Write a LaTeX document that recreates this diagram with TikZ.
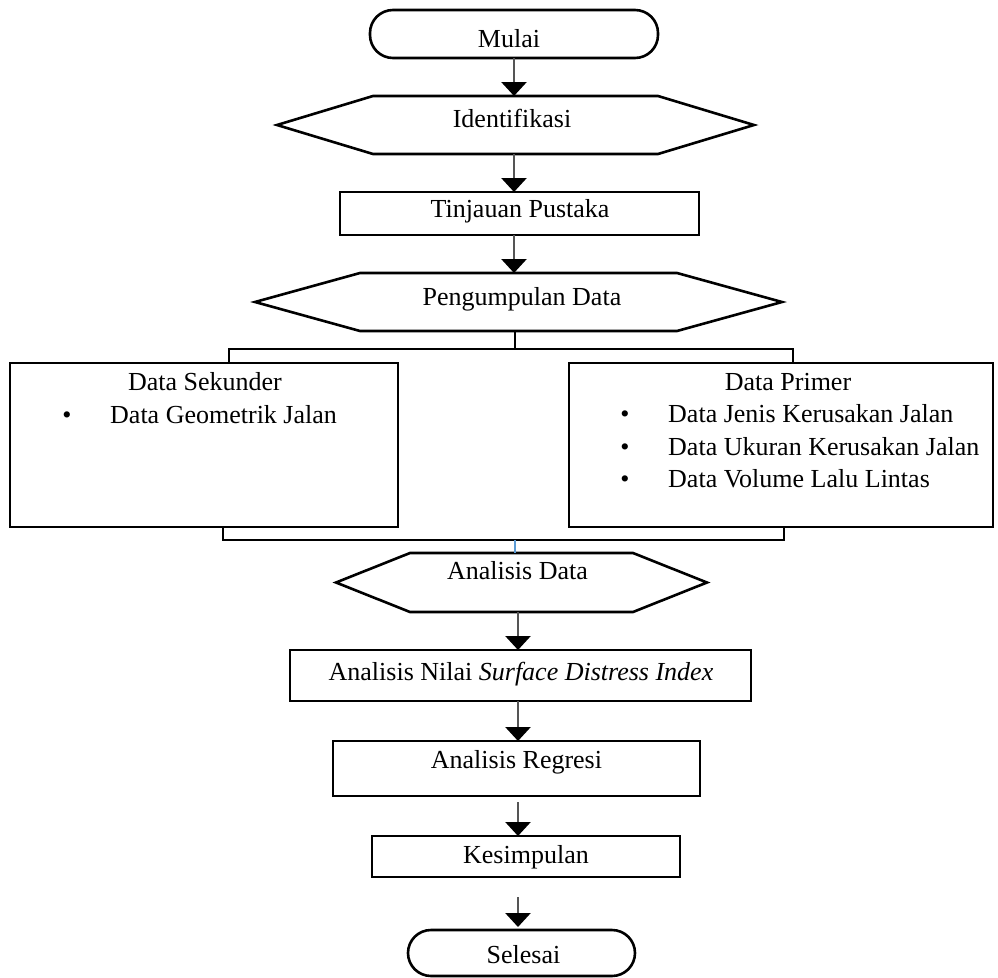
\documentclass[tikz,border=0pt]{standalone}
\usepackage{fontspec}
\setmainfont{Liberation Serif}
\usetikzlibrary{arrows.meta,calc}
\definecolor{shaft}{RGB}{85,85,85}
\definecolor{linkblue}{RGB}{91,155,213}
\tikzset{
  base/.style={font=\fontsize{26bp}{31bp}\selectfont, inner sep=0pt, outer sep=0pt},
  boxline/.style={line width=2.6bp, draw=black, line join=miter},
  procbox/.style={base, draw=black, line width=2.6bp, rectangle},
  termbox/.style={base, draw=black, line width=2.6bp, rectangle, rounded corners=23bp},
  hexarea/.style={base, rectangle},
  lbl/.style={font=\fontsize{26bp}{31bp}\selectfont, inner sep=0pt, anchor=base},
  lblw/.style={lbl, anchor=base west},
  flow/.style={draw=shaft, line width=2.8bp, -{Triangle[width=25bp,length=14bp,color=black]}},
  branch/.style={draw=black, line width=1.4bp},
}
\newcommand\hexpath[2]{%
  \draw[boxline] (#1.west) -- ($(#1.north west)+(#2,0)$) -- ($(#1.north east)+(-#2,0)$)
    -- (#1.east) -- ($(#1.south east)+(-#2,0)$) -- ($(#1.south west)+(#2,0)$) -- cycle;}
\begin{document}
\begin{tikzpicture}[x=1bp,y=-1bp]
\useasboundingbox (0,0) rectangle (998,978);
% axes for the vertical connectors
\coordinate (axA) at (514,0);
\coordinate (axB) at (518,0);
% shapes
\node[termbox, minimum width=288bp, minimum height=48bp] (mulai) at (514,34) {};
\node[hexarea, minimum width=477bp, minimum height=58bp] (ident) at (515.5,125) {};
\hexpath{ident}{96}
\node[procbox, minimum width=359bp, minimum height=43bp] (tinj) at (519.5,213.5) {};
\node[hexarea, minimum width=527bp, minimum height=58bp] (peng) at (518.5,302) {};
\hexpath{peng}{105}
\node[procbox, minimum width=388bp, minimum height=164bp] (sek) at (204,445) {};
\node[procbox, minimum width=424bp, minimum height=164bp] (prim) at (781,445) {};
\node[hexarea, minimum width=371bp, minimum height=59bp] (ad) at (521.5,582.5) {};
\hexpath{ad}{74}
\node[procbox, minimum width=461bp, minimum height=51bp] (sdi) at (520.5,675.5) {};
\node[procbox, minimum width=367bp, minimum height=55bp] (reg) at (516.5,768.5) {};
\node[procbox, minimum width=308bp, minimum height=41bp] (kes) at (526,856.5) {};
\node[termbox, minimum width=227bp, minimum height=46bp] (sel) at (521.5,953) {};
% labels
\node[lbl] (mulait) at (509,47) {Mulai};
\node[lbl] (identt) at (512,127) {Identifikasi};
\node[lbl] (tinjt) at (520,217) {Tinjauan Pustaka};
\node[lbl] (pengt) at (522,305) {Pengumpulan Data};
\node[lbl] (sekt) at (205,390) {Data Sekunder};
\node[lbl] (sekb1) at (67,423) {•};
\node[lblw] (sek1) at (110,423) {Data Geometrik Jalan};
\node[lbl] (primt) at (788,390) {Data Primer};
\node[lbl] (primb1) at (625,422) {•};
\node[lblw] (prim1) at (668,422) {Data Jenis Kerusakan Jalan};
\node[lbl] (primb2) at (625,455) {•};
\node[lblw] (prim2) at (668,455) {Data Ukuran Kerusakan Jalan};
\node[lbl] (primb3) at (625,487) {•};
\node[lblw] (prim3) at (668,487) {Data Volume Lalu Lintas};
\node[lbl] (adt) at (517.5,579) {Analisis Data};
\node[lbl] (sdit) at (521,680) {Analisis Nilai \textit{Surface Distress Index}};
\node[lbl] (regt) at (516.5,768) {Analisis Regresi};
\node[lbl] (kest) at (526,863) {Kesimpulan};
\node[lbl] (selt) at (523.5,963) {Selesai};
% flow arrows
\draw[flow] (mulai.south -| axA) -- (ident.north -| axA);
\draw[flow] (ident.south -| axA) -- (tinj.north -| axA);
\draw[flow] (tinj.south -| axA) -- (peng.north -| axA);
\draw[flow] (ad.south -| axB) -- (sdi.north -| axB);
\draw[flow] (sdi.south -| axB) -- (reg.north -| axB);
\draw[flow] ($(reg.south -| axB)+(0,6)$) -- (kes.north -| axB);
\draw[flow] ($(kes.south -| axB)+(0,20)$) -- ($(sel.north -| axB)+(0,-3)$);
% branching connectors
\coordinate (jtop) at (515,349);
\coordinate (jbot) at (515,540);
\draw[branch] (peng.south -| jtop) -- (jtop);
\draw[branch] ($(sek.north)+(25,0)$) |- (jtop) -| ($(prim.north)+(12,0)$);
\draw[branch] ($(sek.south)+(19,0)$) |- (jbot) -| ($(prim.south)+(3,0)$);
\draw[linkblue, line width=1.4bp] (jbot) -- (ad.north -| jbot);
\end{tikzpicture}
\end{document}
